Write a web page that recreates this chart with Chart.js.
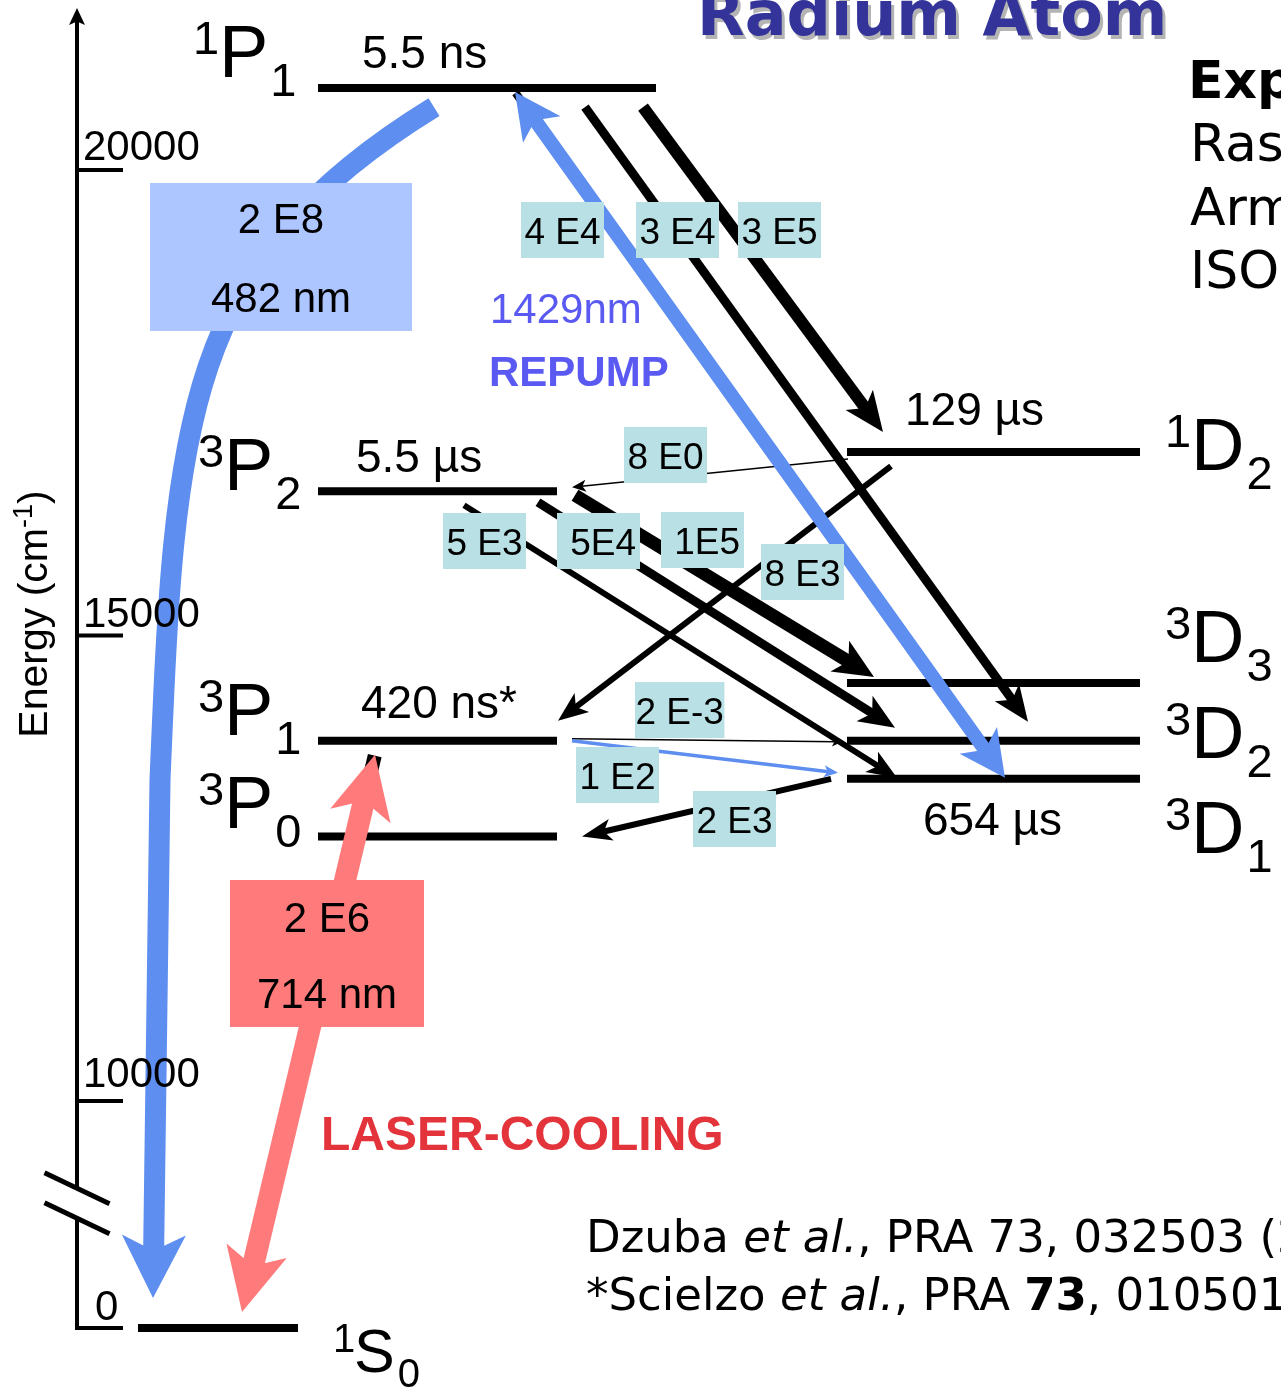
<!DOCTYPE html>
<html>
<head>
<meta charset="utf-8">
<script src="https://cdn.jsdelivr.net/npm/chart.js@4.4.1/dist/chart.umd.min.js"></script>
<style>
html,body{margin:0;padding:0;background:#fff;overflow:hidden}
#wrap{width:1281px;height:1391px;position:relative;background:#fff}
</style>
</head>
<body>
<div id="wrap"><canvas id="c"></canvas></div>
<script>
// ================= DATA =================
const levelNames      = ['1S0', '3P0', '3P1', '3P2', '1P1', '3D1', '3D2', '3D3', '1D2'];
const levelEnergies   = [0, 12840, 13870, 16550, 20880, 13460, 13870, 14490, 16970]; // cm^-1
const levelLifetimes  = ['', '', '420 ns*', '5.5 µs', '5.5 ns', '654 µs', '', '', '129 µs'];

const transitionFrom  = ['1P1', '1S0', '3D1', '1P1', '1P1', '1D2', '3P2', '3P2', '3P2', '1D2', '3P1', '3P1', '3D1'];
const transitionTo    = ['1S0', '3P1', '1P1', '3D2', '1D2', '3P2', '3D1', '3D2', '3D3', '3P1', '3D2', '3D1', '3P0'];
const transitionRates = ['2 E8', '2 E6', '4 E4', '3 E4', '3 E5', '8 E0', '5 E3', '5E4', '1E5', '8 E3', '2 E-3', '1 E2', '2 E3'];
const wavelengthLabels = ['482 nm', '714 nm', '1429nm'];
const annotationTexts = ['REPUMP', 'LASER-COOLING'];

const yTickValues = [0, 10000, 15000, 20000];
const yTickLabels = ['0', '10000', '15000', '20000'];
const yAxisTitle = ['Energy (cm', '-1', ')'];

const titleText = 'Radium Atom';
const sideTexts = ['Experiment:', 'Rasmussen', 'Armstrong', 'ISOLDE'];
const refLine1 = [['Dzuba ', 'n'], ['et al.', 'i'], [', PRA 73, 032503 (2006)', 'n']];
const refLine2 = [['*Scielzo ', 'n'], ['et al.', 'i'], [', PRA ', 'n'], ['73', 'b'], [', 010501(R) (2006)', 'n']];

// ================= STYLE / LAYOUT =================
const BLUE = '#5d8ef0';
const RED = '#ff7b7b';
const TEAL = '#b9e0e4';
const ARIAL = '"Liberation Sans", Arial, sans-serif';
const COMIC = '"DejaVu Sans", sans-serif';

const AXIS = { breakAt: 10000, compress: 0.2438, min: 6885, max: 21826 };

const levelLayout = {
  '1S0': { x0: 138, x1: 298, labelX: 333, labelDy: 44, mainSize: 61, smallSize: 40, supDy: -20, subDy: 15, mainGap: 21, subGap: 3 },
  '3P0': { x0: 318, x1: 557, labelX: 198, labelDy: -9 },
  '3P1': { x0: 318, x1: 557, labelX: 198, labelDy: -6 },
  '3P2': { x0: 318, x1: 557, labelX: 198, labelDy: -1 },
  '1P1': { x0: 318, x1: 656, labelX: 193, labelDy: -11 },
  '3D1': { x0: 847, x1: 1140, labelX: 1165, labelDy: 74 },
  '3D2': { x0: 847, x1: 1140, labelX: 1165, labelDy: 17 },
  '3D3': { x0: 847, x1: 1140, labelX: 1165, labelDy: -21 },
  '1D2': { x0: 847, x1: 1140, labelX: 1165, labelDy: 17.5 }
};
const termDefaults = { mainSize: 74, smallSize: 47, supDy: -23, subDy: 19, mainGap: 26, subGap: 2 };

const lifetimeLayout = {
  '1P1': { x: 362, dy: -20 }, '3P2': { x: 356, dy: -19 }, '3P1': { x: 361, dy: -23 },
  '1D2': { x: 905, dy: -27.5 }, '3D1': { x: 923, dy: 56 }
};

const arrowLayout = {
  '2 E8':  { x0: 434, dy0: 19, x1: 153, dy1: -30, w: 21, color: BLUE, L: 63, H: 32,
             curve: [[182, 0.130], [175, 0.263], [160, 0.565]] },
  '2 E6':  { x0: 242, dy0: -16, x1: 375, dy1: 14, w: 22, color: RED, L: 63, H: 31, both: true, under: 14 },
  '4 E4':  { x0: 1005, dy0: -1, x1: 515, dy1: 4, w: 14, color: BLUE, L: 46, H: 23, both: true, under: 8 },
  '3 E4':  { x0: 585, dy0: 19, x1: 1028, dy1: -19, w: 9, L: 36, H: 15 },
  '3 E5':  { x0: 643, dy0: 19, x1: 883, dy1: -20, w: 12, L: 40, H: 17 },
  '8 E0':  { x0: 848, dy0: 7, x1: 572, dy1: -4, w: 1.5, L: 14, H: 6 },
  '5 E3':  { x0: 464, dy0: 14, x1: 897, dy1: -1, w: 6, L: 30, H: 12 },
  '5E4':   { x0: 538, dy0: 11, x1: 895, dy1: -13, w: 9, L: 36, H: 15 },
  '1E5':   { x0: 575, dy0: 4, x1: 874, dy1: -6, w: 13, L: 40, H: 18 },
  '8 E3':  { x0: 891, dy0: 14, x1: 558, dy1: -20, w: 6, L: 30, H: 12 },
  '2 E-3': { x0: 572, dy0: -2, x1: 842, dy1: 1, w: 1.5, L: 10, H: 5 },
  '1 E2':  { x0: 572, dy0: 0, x1: 838, dy1: -6, w: 3.5, color: BLUE, L: 14, H: 6 },
  '2 E3':  { x0: 831, dy0: 0, x1: 582, dy1: 0, w: 6, L: 30, H: 11 }
};

const rateBoxLayout = {
  '4 E4': [521, 202], '3 E4': [636, 202], '3 E5': [738, 202], '8 E0': [624, 427],
  '5 E3': [443, 513], '5E4': [557, 513], '1E5': [661, 512], '8 E3': [761, 544],
  '2 E-3': [635, 682], '1 E2': [576, 747], '2 E3': [693, 791]
};

const bigBoxLayout = {
  '2 E8': { x: 150, y: 183, w: 262, h: 148, fill: '#adc6ff', wl: '482 nm', b1: 233, b2: 312 },
  '2 E6': { x: 230, y: 880, w: 194, h: 147, fill: '#ff7b7b', wl: '714 nm', b1: 932, b2: 1008 }
};

const axisLayout = {
  x: 77, tipY: 8, headLen: 17, headHalf: 8, lineW: 4, tickLen: 46, tickW: 4, labelSize: 42,
  labelX: [95, 83, 83, 83], labelDy: [-8, -14, -8, -10],
  breakFrac: 0.45, slashDx: 32.5, slashDy: 15.5, slashSep: 15, slashW: 5,
  titleX: 47, titleY: 614, titleSize: 41, titleSupSize: 27
};

// ================= CUSTOM BROKEN SCALE =================
class BrokenLinearScale extends Chart.LinearScale {
  getPixelForValue(value) {
    if (value === null || value === undefined) return NaN;
    const v = value < AXIS.breakAt ? AXIS.breakAt - (AXIS.breakAt - value) * AXIS.compress : value;
    return super.getPixelForValue(v);
  }
}
BrokenLinearScale.id = 'brokenLinear';
BrokenLinearScale.defaults = {};
Chart.register(BrokenLinearScale);

// ================= DRAW HELPERS =================
function energyOf(name) { return levelEnergies[levelNames.indexOf(name)]; }

function drawHead(ctx, tip, d, L, H, notch) {
  const n = { x: -d.y, y: d.x };
  ctx.beginPath();
  ctx.moveTo(tip.x, tip.y);
  ctx.lineTo(tip.x - d.x * L + n.x * H, tip.y - d.y * L + n.y * H);
  ctx.lineTo(tip.x - d.x * L * notch, tip.y - d.y * L * notch);
  ctx.lineTo(tip.x - d.x * L - n.x * H, tip.y - d.y * L - n.y * H);
  ctx.closePath();
  ctx.fill();
}

function drawArrow(ctx, p0, p1, st) {
  const color = st.color || '#000';
  const notch = 0.75;
  ctx.save();
  ctx.lineCap = 'butt';
  ctx.lineJoin = 'round';
  if (st.curve) {
    const span = p1.y - p0.y;
    const c = st.curve.map(([x, f]) => ({ x: x, y: p0.y + f * span }));
    const last = c[2];
    let dx = p1.x - last.x, dy = p1.y - last.y;
    const len = Math.hypot(dx, dy); const d = { x: dx / len, y: dy / len };
    const end = { x: p1.x - d.x * (st.L * notch - 1), y: p1.y - d.y * (st.L * notch - 1) };
    ctx.strokeStyle = color; ctx.fillStyle = color; ctx.lineWidth = st.w;
    ctx.beginPath();
    ctx.moveTo(p0.x, p0.y);
    ctx.bezierCurveTo(c[0].x, c[0].y, c[1].x, c[1].y, c[2].x, c[2].y);
    ctx.lineTo(end.x, end.y);
    ctx.stroke();
    drawHead(ctx, p1, d, st.L, st.H, notch);
    ctx.restore();
    return;
  }
  const dx = p1.x - p0.x, dy = p1.y - p0.y;
  const len = Math.hypot(dx, dy);
  const d = { x: dx / len, y: dy / len };
  if (st.under) {
    ctx.strokeStyle = '#000'; ctx.lineWidth = st.under;
    ctx.beginPath();
    ctx.moveTo(p0.x + d.x * st.L, p0.y + d.y * st.L);
    ctx.lineTo(p1.x - d.x * 1, p1.y - d.y * 1);
    ctx.stroke();
  }
  const back = st.L * notch - 1;
  const s = st.both ? { x: p0.x + d.x * back, y: p0.y + d.y * back } : p0;
  const e = { x: p1.x - d.x * back, y: p1.y - d.y * back };
  ctx.strokeStyle = color; ctx.fillStyle = color; ctx.lineWidth = st.w;
  ctx.beginPath(); ctx.moveTo(s.x, s.y); ctx.lineTo(e.x, e.y); ctx.stroke();
  drawHead(ctx, p1, d, st.L, st.H, notch);
  if (st.both) drawHead(ctx, p0, { x: -d.x, y: -d.y }, st.L, st.H, notch);
  ctx.restore();
}

function drawSegments(ctx, segs, x, y, size, family) {
  for (const [t, style] of segs) {
    const w = style === 'b' ? 'bold ' : '';
    const it = style === 'i' ? 'italic ' : '';
    ctx.font = it + w + size + 'px ' + family;
    ctx.fillText(t, x, y);
    x += ctx.measureText(t).width;
  }
}

// ================= PLUGIN =================
const diagramPlugin = {
  id: 'diagram',
  afterDatasetsDraw(chart) {
    const ctx = chart.ctx;
    const xs = chart.scales.x, ys = chart.scales.y;
    const lvlY = (name) => ys.getPixelForValue(energyOf(name));
    ctx.save();

    // ---- axis line, break marks, ticks ----
    const A = axisLayout;
    const y0 = ys.getPixelForValue(yTickValues[0]);
    const y10 = ys.getPixelForValue(AXIS.breakAt);
    const bc = y10 + A.breakFrac * (y0 - y10);
    ctx.strokeStyle = '#000'; ctx.fillStyle = '#000';
    ctx.lineWidth = A.lineW; ctx.lineCap = 'butt';
    ctx.beginPath();
    ctx.moveTo(A.x, A.tipY + A.headLen * 0.7); ctx.lineTo(A.x, bc - A.slashSep);
    ctx.moveTo(A.x, bc + A.slashSep); ctx.lineTo(A.x, y0 + A.tickW / 2);
    ctx.stroke();
    drawHead(ctx, { x: A.x, y: A.tipY }, { x: 0, y: -1 }, A.headLen, A.headHalf, 0.8);
    ctx.lineWidth = A.slashW;
    ctx.beginPath();
    for (const off of [-A.slashSep, A.slashSep]) {
      ctx.moveTo(A.x - A.slashDx, bc + off - A.slashDy);
      ctx.lineTo(A.x + A.slashDx, bc + off + A.slashDy);
    }
    ctx.stroke();
    ctx.lineWidth = A.tickW;
    yTickValues.forEach((v) => {
      const py = ys.getPixelForValue(v);
      ctx.beginPath(); ctx.moveTo(A.x - A.lineW / 2, py); ctx.lineTo(A.x + A.tickLen, py); ctx.stroke();
    });

    // ---- arrows: black first, then coloured ----
    const colouredOrder = ['1 E2', '4 E4', '2 E6', '2 E8'];
    const blacks = transitionRates.map((r, i) => i).filter(i => !arrowLayout[transitionRates[i]].color);
    const cols = colouredOrder.map(r => transitionRates.indexOf(r));
    for (const i of blacks.concat(cols)) {
      const st = arrowLayout[transitionRates[i]];
      const p0 = { x: xs.getPixelForValue(st.x0), y: lvlY(transitionFrom[i]) + st.dy0 };
      const p1 = { x: xs.getPixelForValue(st.x1), y: lvlY(transitionTo[i]) + st.dy1 };
      drawArrow(ctx, p0, p1, st);
    }

    // ---- tick labels (on top of the curve) ----
    ctx.fillStyle = '#000';
    ctx.font = A.labelSize + 'px ' + ARIAL;
    ctx.textBaseline = 'alphabetic'; ctx.textAlign = 'left';
    yTickValues.forEach((v, i) => {
      const py = ys.getPixelForValue(v);
      ctx.fillText(yTickLabels[i], A.labelX[i], py + A.labelDy[i]);
    });
    // axis title (rotated)
    ctx.save();
    ctx.translate(A.titleX, A.titleY);
    ctx.rotate(-Math.PI / 2);
    ctx.font = A.titleSize + 'px ' + ARIAL;
    const w1 = ctx.measureText(yAxisTitle[0]).width;
    const w3 = ctx.measureText(yAxisTitle[2]).width;
    ctx.font = A.titleSupSize + 'px ' + ARIAL;
    const w2 = ctx.measureText(yAxisTitle[1]).width;
    let tx = -(w1 + w2 + w3) / 2;
    ctx.font = A.titleSize + 'px ' + ARIAL; ctx.fillText(yAxisTitle[0], tx, 0); tx += w1;
    ctx.font = A.titleSupSize + 'px ' + ARIAL; ctx.fillText(yAxisTitle[1], tx, -15); tx += w2;
    ctx.font = A.titleSize + 'px ' + ARIAL; ctx.fillText(yAxisTitle[2], tx, 0);
    ctx.restore();

    // ---- rate boxes ----
    ctx.font = '37px ' + ARIAL;
    transitionRates.forEach((r) => {
      const pos = rateBoxLayout[r];
      if (!pos) return;
      const tw = ctx.measureText(r).width;
      const w = Math.max(83, tw + 1);
      ctx.fillStyle = TEAL;
      ctx.fillRect(pos[0], pos[1], w, 56);
      ctx.fillStyle = '#000';
      if (tw > w - 8) { ctx.textAlign = 'center'; ctx.fillText(r, pos[0] + w / 2, pos[1] + 42); }
      else { ctx.textAlign = 'right'; ctx.fillText(r, pos[0] + w - 4, pos[1] + 42); }
    });
    ctx.textAlign = 'left';

    // ---- big coloured boxes ----
    for (const r of Object.keys(bigBoxLayout)) {
      const b = bigBoxLayout[r];
      ctx.fillStyle = b.fill;
      ctx.fillRect(b.x, b.y, b.w, b.h);
      ctx.fillStyle = '#000';
      ctx.font = '42px ' + ARIAL; ctx.textAlign = 'center';
      ctx.fillText(r, b.x + b.w / 2, b.b1);
      ctx.fillText(b.wl, b.x + b.w / 2, b.b2);
    }
    ctx.textAlign = 'left';

    // ---- repump / laser-cooling annotations ----
    ctx.fillStyle = '#5a5af2';
    ctx.font = '42px ' + ARIAL; ctx.fillText(wavelengthLabels[2], 490, 323);
    ctx.font = 'bold 42px ' + ARIAL; ctx.fillText(annotationTexts[0], 489, 386);
    ctx.fillStyle = '#e3343b';
    ctx.font = 'bold 48px ' + ARIAL; ctx.fillText(annotationTexts[1], 321, 1150);

    // ---- level term labels ----
    ctx.fillStyle = '#000';
    levelNames.forEach((name) => {
      const L = Object.assign({}, termDefaults, levelLayout[name]);
      const base = lvlY(name) + L.labelDy;
      const sup = name[0], main = name[1], sub = name.slice(2);
      let x = L.labelX;
      ctx.font = L.smallSize + 'px ' + ARIAL;
      ctx.fillText(sup, x, base + L.supDy);
      x += L.mainGap;
      ctx.font = L.mainSize + 'px ' + ARIAL;
      ctx.fillText(main, x, base);
      x += ctx.measureText(main).width + L.subGap;
      ctx.font = L.smallSize + 'px ' + ARIAL;
      ctx.fillText(sub, x, base + L.subDy);
    });

    // ---- lifetimes ----
    ctx.font = '46px ' + ARIAL;
    levelNames.forEach((name, i) => {
      const t = levelLifetimes[i];
      if (!t) return;
      const L = lifetimeLayout[name];
      ctx.fillText(t, L.x, lvlY(name) + L.dy);
    });

    // ---- title ----
    ctx.font = 'bold 62px ' + COMIC;
    ctx.fillStyle = '#b4b4b4'; ctx.fillText(titleText, 700, 39);
    ctx.fillStyle = '#333399'; ctx.fillText(titleText, 697, 35);

    // ---- side text ----
    ctx.fillStyle = '#000';
    ctx.font = 'bold 52px ' + COMIC; ctx.fillText(sideTexts[0], 1188, 98);
    ctx.font = '52px ' + COMIC;
    ctx.fillText(sideTexts[1], 1190, 161);
    ctx.fillText(sideTexts[2], 1190, 225);
    ctx.fillText(sideTexts[3], 1190, 288);

    // ---- references ----
    drawSegments(ctx, refLine1, 586, 1252, 45, COMIC);
    drawSegments(ctx, refLine2, 586, 1310, 45, COMIC);

    ctx.restore();
  }
};

// ================= CHART =================
const datasets = levelNames.map((name, i) => ({
  label: name,
  data: [
    { x: levelLayout[name].x0, y: levelEnergies[i] },
    { x: levelLayout[name].x1, y: levelEnergies[i] }
  ],
  showLine: true,
  borderColor: '#000',
  borderWidth: 8,
  borderCapStyle: 'butt',
  pointRadius: 0,
  pointHoverRadius: 0,
  fill: false
}));

new Chart(document.getElementById('c'), {
  type: 'scatter',
  data: { datasets },
  options: {
    responsive: true,
    maintainAspectRatio: false,
    animation: false,
    layout: { padding: 0 },
    events: [],
    plugins: { legend: { display: false }, tooltip: { enabled: false }, title: { display: false } },
    scales: {
      x: { type: 'linear', min: 0, max: 1281, display: false },
      y: { type: 'brokenLinear', min: AXIS.min, max: AXIS.max, display: false }
    }
  },
  plugins: [diagramPlugin]
});
</script>
</body>
</html>
